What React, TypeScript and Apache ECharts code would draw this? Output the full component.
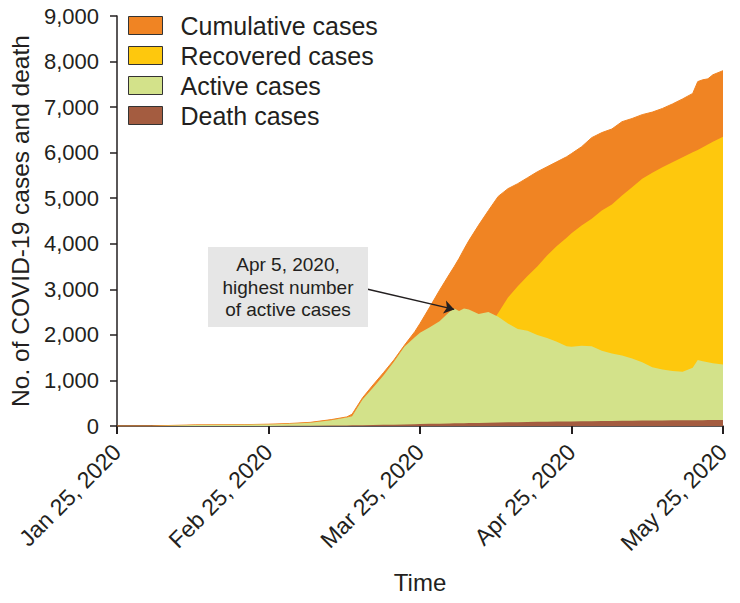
import React, { useEffect, useRef } from "react";
import * as echarts from "echarts";

const tickDates = ["2020-01-25", "2020-02-25", "2020-03-25", "2020-04-25", "2020-05-25"];
const tickLabels = ["Jan 25, 2020", "Feb 25, 2020", "Mar 25, 2020", "Apr 25, 2020", "May 25, 2020"];

const dates = [
  "2020-01-25", "2020-02-01", "2020-02-10", "2020-02-20", "2020-02-25", "2020-02-29",
  "2020-03-04", "2020-03-08", "2020-03-11", "2020-03-12", "2020-03-13", "2020-03-14",
  "2020-03-16", "2020-03-18", "2020-03-20", "2020-03-22", "2020-03-24", "2020-03-25",
  "2020-03-27", "2020-03-29", "2020-03-31", "2020-04-01", "2020-04-02", "2020-04-03",
  "2020-04-04", "2020-04-06", "2020-04-08", "2020-04-10", "2020-04-12", "2020-04-14",
  "2020-04-16", "2020-04-18", "2020-04-20", "2020-04-22", "2020-04-24", "2020-04-25",
  "2020-04-27", "2020-04-29", "2020-05-01", "2020-05-03", "2020-05-05", "2020-05-07",
  "2020-05-09", "2020-05-11", "2020-05-13", "2020-05-15", "2020-05-17", "2020-05-19",
  "2020-05-20", "2020-05-21", "2020-05-22", "2020-05-23", "2020-05-25",
];

const cumulative = [
  0, 2, 25, 30, 40, 55, 80, 140, 200, 260, 440, 620, 900, 1170, 1450, 1770, 2070, 2250,
  2610, 2980, 3330, 3500, 3680, 3880, 4070, 4410, 4730, 5040, 5210, 5320, 5450, 5580,
  5690, 5800, 5910, 5980, 6130, 6330, 6440, 6520, 6680, 6750, 6835, 6890, 6970, 7070,
  7180, 7300, 7560, 7600, 7620, 7710, 7800,
];

const recovered = [
  0, 0, 0, 3, 5, 5, 7, 10, 12, 15, 18, 20, 30, 40, 60, 90, 130, 160, 400, 620, 800, 870,
  1100, 1250, 1450, 1880, 2160, 2480, 2820, 3070, 3290, 3500, 3740, 3950, 4130, 4230,
  4400, 4550, 4730, 4860, 5060, 5240, 5430, 5560, 5680, 5790, 5900, 6010, 6060, 6120,
  6180, 6240, 6350,
];

const active = [
  0, 1, 22, 27, 35, 50, 72, 128, 185, 215, 400, 580, 840, 1110, 1410, 1740, 1950, 2045,
  2170, 2300, 2500, 2580, 2525, 2580, 2560, 2460, 2500, 2400, 2250, 2130, 2090, 2000,
  1930, 1850, 1750, 1740, 1760, 1750, 1650, 1590, 1550, 1480, 1400, 1290, 1240, 1210,
  1190, 1280, 1450, 1420, 1400, 1380, 1350,
];

const deaths = [
  0, 0, 0, 0, 1, 3, 6, 10, 13, 14, 15, 17, 20, 25, 30, 35, 40, 42, 48, 52, 56, 58, 60, 62,
  64, 68, 72, 76, 80, 84, 88, 91, 94, 97, 100, 101, 104, 107, 110, 112, 114, 116, 118, 120,
  122, 124, 126, 127, 128, 128, 129, 130, 131,
];

const seriesNames = ["Cumulative cases", "Recovered cases", "Active cases", "Death cases"];
const seriesColors = ["#F08423", "#FEC80D", "#D3E28A", "#A45C40"];

const annotationText = "Apr 5, 2020,\nhighest number\nof active cases";
const arrowFrom: [string, number] = ["2020-03-15", 3000];
const arrowTo: [string, number] = ["2020-04-01", 2560];

const FONT = '"Liberation Sans", Arial, Helvetica, sans-serif';

const dayNum = (s: string) => Date.parse(s + "T00:00:00Z") / 86400000;
function monthPos(s: string): number {
  const d = dayNum(s);
  for (let i = 0; i < tickDates.length - 1; i++) {
    const a = dayNum(tickDates[i]);
    const b = dayNum(tickDates[i + 1]);
    if (d <= b) return i + (d - a) / (b - a);
  }
  return tickDates.length - 1;
}
const pts = (vals: number[]) => dates.map((d, i) => [monthPos(d), vals[i]]);

export default function App() {
  const ref = useRef<HTMLDivElement>(null);
  useEffect(() => {
    if (!ref.current) return;
    const chart = echarts.init(ref.current, undefined, { renderer: "svg" });
    const allData = [cumulative, recovered, active, deaths];
    const series: any[] = allData.map((vals, i) => ({
      name: seriesNames[i],
      type: "line",
      data: pts(vals),
      showSymbol: false,
      symbol: "none",
      itemStyle: { color: seriesColors[i] },
      lineStyle: { width: i === 0 ? 1 : 0, color: seriesColors[i] },
      areaStyle: { color: seriesColors[i], opacity: 1 },
      z: 2 + i,
    }));
    series[2].markLine = {
      silent: true,
      symbol: ["none", "arrow"],
      symbolSize: 10,
      label: { show: false },
      lineStyle: { color: "#231F20", width: 1.5, type: "solid" },
      data: [
        [
          { coord: [monthPos(arrowFrom[0]), arrowFrom[1]] },
          { coord: [monthPos(arrowTo[0]), arrowTo[1]] },
        ],
      ],
    };
    chart.setOption({
      animation: false,
      backgroundColor: "#ffffff",
      grid: { left: 115, right: 17, top: 16, bottom: 177, containLabel: false },
      legend: {
        orient: "vertical",
        left: 128,
        top: 13,
        padding: 0,
        itemWidth: 34,
        itemHeight: 18,
        itemGap: 5,
        icon: "rect",
        data: seriesNames,
        itemStyle: { borderColor: "#333333", borderWidth: 1 },
        textStyle: {
          fontFamily: FONT,
          fontSize: 25,
          color: "#231F20",
          padding: [0, 0, 0, 13],
        },
      },
      xAxis: {
        type: "value",
        min: 0,
        max: tickDates.length - 1,
        interval: 1,
        name: "Time",
        nameLocation: "middle",
        nameGap: 144,
        nameTextStyle: { fontFamily: FONT, fontSize: 24, color: "#231F20", verticalAlign: "top" },
        splitLine: { show: false },
        axisLine: { lineStyle: { color: "#231F20", width: 1.5 } },
        axisTick: { show: true, length: 8, lineStyle: { color: "#231F20", width: 2 } },
        axisLabel: {
          rotate: 45,
          margin: 22,
          fontFamily: FONT,
          fontSize: 23,
          color: "#231F20",
          formatter: (v: number) => tickLabels[Math.round(v)] ?? "",
        },
      },
      yAxis: {
        type: "value",
        min: 0,
        max: 9000,
        interval: 1000,
        name: "No. of COVID-19 cases and death",
        nameLocation: "middle",
        nameGap: 84,
        nameTextStyle: {
          fontFamily: FONT,
          fontSize: 24.5,
          color: "#231F20",
        },
        splitLine: { show: false },
        axisLine: { show: true, lineStyle: { color: "#231F20", width: 1.5 } },
        axisTick: { show: true, length: 7, lineStyle: { color: "#231F20", width: 1.5 } },
        axisLabel: {
          margin: 18,
          fontFamily: FONT,
          fontSize: 22,
          color: "#231F20",
          formatter: (v: number) => v.toLocaleString("en-US"),
        },
      },
      series,
      graphic: [
        {
          type: "rect",
          shape: { x: 208, y: 247, width: 160, height: 80 },
          style: { fill: "#E6E6E6" },
          z: 20,
        },
        {
          type: "text",
          x: 288,
          y: 287,
          z: 21,
          style: {
            text: annotationText,
            fill: "#231F20",
            fontFamily: FONT,
            fontSize: 19,
            lineHeight: 22.5,
            align: "center",
            verticalAlign: "middle",
          },
        },
      ],
    });
    return () => chart.dispose();
  }, []);
  return (
    <div
      ref={ref}
      style={{ position: "fixed", left: 0, top: 0, width: 740, height: 603, background: "#fff" }}
    />
  );
}
